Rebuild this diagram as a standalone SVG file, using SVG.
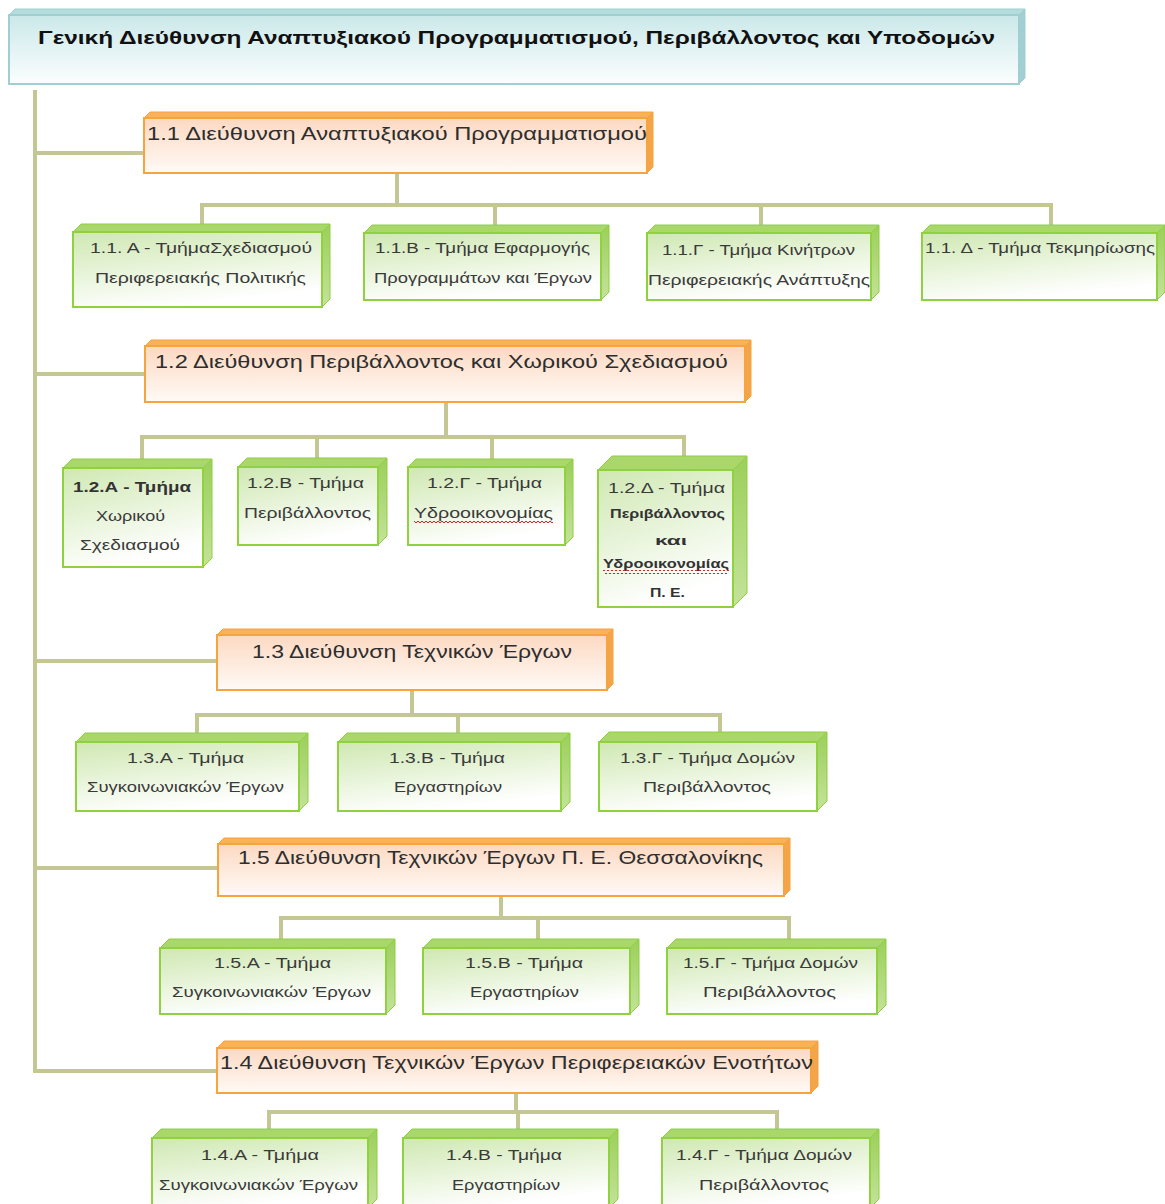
<svg xmlns="http://www.w3.org/2000/svg" width="1165" height="1204" viewBox="0 0 1165 1204">
  <defs>
    <linearGradient id="gradHead" x1="0" y1="0" x2="0" y2="1">
      <stop offset="0" stop-color="#cbe8e9"/>
      <stop offset="1" stop-color="#fbfefe"/>
    </linearGradient>
    <linearGradient id="gradOrange" x1="0" y1="0" x2="0" y2="1">
      <stop offset="0" stop-color="#fcd9c2"/>
      <stop offset="1" stop-color="#fffaf6"/>
    </linearGradient>
    <linearGradient id="gradGreen" x1="0" y1="0" x2="0.35" y2="1">
      <stop offset="0" stop-color="#cfe8b2"/>
      <stop offset="1" stop-color="#ffffff"/>
    </linearGradient>
    <linearGradient id="gradGreenSide" x1="0" y1="0" x2="0" y2="1">
      <stop offset="0" stop-color="#9bcf5a"/>
      <stop offset="1" stop-color="#c4e39a"/>
    </linearGradient>
    <pattern id="wavy" width="4" height="4" patternUnits="userSpaceOnUse">
      <path d="M0,3 L2,1 L4,3" fill="none" stroke="#e02020" stroke-width="1"/>
    </pattern>
    <style>
      .conn { fill: none; stroke: #c4c794; stroke-width: 4; stroke-linecap: square; }
      .htop { fill: #b5dcdd; stroke: #9fcfd2; stroke-width: 1; }
      .hside { fill: #a2d0d2; stroke: #9fcfd2; stroke-width: 1; }
      .hfront { fill: url(#gradHead); stroke: #9fcfd2; stroke-width: 2; }
      .otop { fill: #f9b257; stroke: #f6a23f; stroke-width: 1; }
      .oside { fill: #f4a54a; stroke: #f6a23f; stroke-width: 1; }
      .ofront { fill: url(#gradOrange); stroke: #f7a33e; stroke-width: 2; }
      .gtop { fill: #a9d76c; stroke: #8fcf40; stroke-width: 1; }
      .gside { fill: url(#gradGreenSide); stroke: #8fcf40; stroke-width: 1; }
      .gfront { fill: url(#gradGreen); stroke: #8fd13f; stroke-width: 2; }
      text { font-family: "Liberation Sans", "DejaVu Sans", sans-serif; }
      .head { font-size: 19px; font-weight: bold; fill: #111111; }
      .title { font-size: 19px; fill: #2e2e2e; }
      .dept { font-size: 15.5px; fill: #3a3a3a; }
      .deptb { font-size: 15.5px; font-weight: bold; fill: #333333; }
      .small { font-size: 13px; font-weight: bold; fill: #333333; }
      .spell { fill: url(#wavy); }
    </style>
  </defs>

  <rect width="1165" height="1204" fill="#ffffff"/>

  <!-- connectors (drawn first so boxes sit on top) -->
  <g id="connectors">
    <path class="conn" d="M35,92 V1071 H217"/>
    <path class="conn" d="M35,153 H144"/>
    <path class="conn" d="M35,374 H145"/>
    <path class="conn" d="M35,661 H217"/>
    <path class="conn" d="M35,868 H218"/>

    <path class="conn" d="M397,173 V205 M202,205 H1051 M202,205 V232 M495,205 V232 M761,205 V232 M1051,205 V232"/>
    <path class="conn" d="M446,402 V437 M142,437 H684 M142,437 V467 M317,437 V467 M492,437 V467 M684,437 V469"/>
    <path class="conn" d="M412,690 V715 M197,715 H720 M197,715 V741 M458,715 V741 M720,715 V741"/>
    <path class="conn" d="M501,896 V918 M281,918 H789 M281,918 V947 M538,918 V947 M789,918 V947"/>
    <path class="conn" d="M516,1093 V1112 M269,1112 H777 M269,1112 V1137 M518,1112 V1137 M777,1112 V1137"/>
  </g>

  <!-- general directorate -->
  <g id="n-root">
    <polygon class="htop" points="9,15 15,9 1025,9 1019,15"/>
    <polygon class="hside" points="1019,15 1025,9 1025,78 1019,84"/>
    <rect class="hfront" x="9" y="15" width="1010" height="69"/>
    <text class="head" x="38" y="44" textLength="957" lengthAdjust="spacingAndGlyphs">Γενική Διεύθυνση Αναπτυξιακού Προγραμματισμού, Περιβάλλοντος και Υποδομών</text>
  </g>

  <!-- 1.1 -->
  <g id="n-1-1">
    <polygon class="otop" points="144,118 150,112 653,112 647,118"/>
    <polygon class="oside" points="647,118 653,112 653,167 647,173"/>
    <rect class="ofront" x="144" y="118" width="503" height="55"/>
    <text class="title" x="147" y="140" textLength="500" lengthAdjust="spacingAndGlyphs">1.1 Διεύθυνση Αναπτυξιακού Προγραμματισμού</text>
  </g>
  <g id="n-1-1-a">
    <polygon class="gtop" points="73,232 81,224 330,224 322,232"/>
    <polygon class="gside" points="322,232 330,224 330,299 322,307"/>
    <rect class="gfront" x="73" y="232" width="249" height="75"/>
    <text class="dept" x="90" y="253" textLength="222" lengthAdjust="spacingAndGlyphs">1.1. Α - ΤμήμαΣχεδιασμού</text>
    <text class="dept" x="95" y="283" textLength="211" lengthAdjust="spacingAndGlyphs">Περιφερειακής Πολιτικής</text>
  </g>
  <g id="n-1-1-b">
    <polygon class="gtop" points="364,233 372,225 609,225 601,233"/>
    <polygon class="gside" points="601,233 609,225 609,292 601,300"/>
    <rect class="gfront" x="364" y="233" width="237" height="67"/>
    <text class="dept" x="375" y="253" textLength="215" lengthAdjust="spacingAndGlyphs">1.1.Β - Τμήμα Εφαρμογής</text>
    <text class="dept" x="374" y="283" textLength="218" lengthAdjust="spacingAndGlyphs">Προγραμμάτων και Έργων</text>
  </g>
  <g id="n-1-1-c">
    <polygon class="gtop" points="647,233 655,225 879,225 871,233"/>
    <polygon class="gside" points="871,233 879,225 879,292 871,300"/>
    <rect class="gfront" x="647" y="233" width="224" height="67"/>
    <text class="dept" x="662" y="255" textLength="193" lengthAdjust="spacingAndGlyphs">1.1.Γ - Τμήμα Κινήτρων</text>
    <text class="dept" x="648" y="285" textLength="222" lengthAdjust="spacingAndGlyphs">Περιφερειακής Ανάπτυξης</text>
  </g>
  <g id="n-1-1-d">
    <polygon class="gtop" points="922,233 930,225 1165,225 1157,233"/>
    <polygon class="gside" points="1157,233 1165,225 1165,292 1157,300"/>
    <rect class="gfront" x="922" y="233" width="235" height="67"/>
    <text class="dept" x="925" y="253" textLength="230" lengthAdjust="spacingAndGlyphs">1.1. Δ - Τμήμα Τεκμηρίωσης</text>
  </g>

  <!-- 1.2 -->
  <g id="n-1-2">
    <polygon class="otop" points="145,346 151,340 751,340 745,346"/>
    <polygon class="oside" points="745,346 751,340 751,396 745,402"/>
    <rect class="ofront" x="145" y="346" width="600" height="56"/>
    <text class="title" x="155" y="368" textLength="573" lengthAdjust="spacingAndGlyphs">1.2 Διεύθυνση Περιβάλλοντος και Χωρικού Σχεδιασμού</text>
  </g>
  <g id="n-1-2-a">
    <polygon class="gtop" points="63,468 72,459 212,459 203,468"/>
    <polygon class="gside" points="203,468 212,459 212,558 203,567"/>
    <rect class="gfront" x="63" y="468" width="140" height="99"/>
    <text class="deptb" x="73" y="492" textLength="118" lengthAdjust="spacingAndGlyphs">1.2.Α - Τμήμα</text>
    <text class="dept" x="96" y="521" textLength="69" lengthAdjust="spacingAndGlyphs">Χωρικού</text>
    <text class="dept" x="80" y="550" textLength="100" lengthAdjust="spacingAndGlyphs">Σχεδιασμού</text>
  </g>
  <g id="n-1-2-b">
    <polygon class="gtop" points="238,467 247,458 387,458 378,467"/>
    <polygon class="gside" points="378,467 387,458 387,536 378,545"/>
    <rect class="gfront" x="238" y="467" width="140" height="78"/>
    <text class="dept" x="247" y="488" textLength="117" lengthAdjust="spacingAndGlyphs">1.2.Β - Τμήμα</text>
    <text class="dept" x="244" y="518" textLength="127" lengthAdjust="spacingAndGlyphs">Περιβάλλοντος</text>
  </g>
  <g id="n-1-2-c">
    <polygon class="gtop" points="408,467 416,459 573,459 565,467"/>
    <polygon class="gside" points="565,467 573,459 573,537 565,545"/>
    <rect class="gfront" x="408" y="467" width="157" height="78"/>
    <text class="dept" x="427" y="488" textLength="115" lengthAdjust="spacingAndGlyphs">1.2.Γ - Τμήμα</text>
    <text class="dept" x="414" y="518" textLength="139" lengthAdjust="spacingAndGlyphs">Υδροοικονομίας</text>
    <rect class="spell" x="414" y="520" width="139" height="4"/>
  </g>
  <g id="n-1-2-d">
    <polygon class="gtop" points="598,470 612,456 747,456 733,470"/>
    <polygon class="gside" points="733,470 747,456 747,593 733,607"/>
    <rect class="gfront" x="598" y="470" width="135" height="137"/>
    <text class="dept" x="608" y="493" textLength="117" lengthAdjust="spacingAndGlyphs">1.2.Δ - Τμήμα</text>
    <text class="small" x="610" y="518" textLength="115" lengthAdjust="spacingAndGlyphs">Περιβάλλοντος</text>
    <text class="small" x="655" y="545" textLength="32" lengthAdjust="spacingAndGlyphs">και</text>
    <text class="small" x="603" y="568" textLength="126" lengthAdjust="spacingAndGlyphs">Υδροοικονομίας</text>
    <rect class="spell" x="603" y="570" width="126" height="4"/>
    <text class="small" x="650" y="597" textLength="35" lengthAdjust="spacingAndGlyphs">Π. Ε.</text>
  </g>

  <!-- 1.3 -->
  <g id="n-1-3">
    <polygon class="otop" points="217,635 223,629 613,629 607,635"/>
    <polygon class="oside" points="607,635 613,629 613,684 607,690"/>
    <rect class="ofront" x="217" y="635" width="390" height="55"/>
    <text class="title" x="252" y="658" textLength="320" lengthAdjust="spacingAndGlyphs">1.3 Διεύθυνση Τεχνικών Έργων</text>
  </g>
  <g id="n-1-3-a">
    <polygon class="gtop" points="76,742 85,733 308,733 299,742"/>
    <polygon class="gside" points="299,742 308,733 308,802 299,811"/>
    <rect class="gfront" x="76" y="742" width="223" height="69"/>
    <text class="dept" x="127" y="763" textLength="117" lengthAdjust="spacingAndGlyphs">1.3.Α - Τμήμα</text>
    <text class="dept" x="87" y="792" textLength="197" lengthAdjust="spacingAndGlyphs">Συγκοινωνιακών Έργων</text>
  </g>
  <g id="n-1-3-b">
    <polygon class="gtop" points="338,742 347,733 570,733 561,742"/>
    <polygon class="gside" points="561,742 570,733 570,802 561,811"/>
    <rect class="gfront" x="338" y="742" width="223" height="69"/>
    <text class="dept" x="389" y="763" textLength="116" lengthAdjust="spacingAndGlyphs">1.3.Β - Τμήμα</text>
    <text class="dept" x="394" y="792" textLength="108" lengthAdjust="spacingAndGlyphs">Εργαστηρίων</text>
  </g>
  <g id="n-1-3-c">
    <polygon class="gtop" points="599,742 609,732 827,732 817,742"/>
    <polygon class="gside" points="817,742 827,732 827,801 817,811"/>
    <rect class="gfront" x="599" y="742" width="218" height="69"/>
    <text class="dept" x="620" y="763" textLength="175" lengthAdjust="spacingAndGlyphs">1.3.Γ - Τμήμα Δομών</text>
    <text class="dept" x="643" y="792" textLength="128" lengthAdjust="spacingAndGlyphs">Περιβάλλοντος</text>
  </g>

  <!-- 1.5 -->
  <g id="n-1-5">
    <polygon class="otop" points="218,844 224,838 790,838 784,844"/>
    <polygon class="oside" points="784,844 790,838 790,890 784,896"/>
    <rect class="ofront" x="218" y="844" width="566" height="52"/>
    <text class="title" x="238" y="864" textLength="525" lengthAdjust="spacingAndGlyphs">1.5 Διεύθυνση Τεχνικών Έργων Π. Ε. Θεσσαλονίκης</text>
  </g>
  <g id="n-1-5-a">
    <polygon class="gtop" points="160,948 169,939 395,939 386,948"/>
    <polygon class="gside" points="386,948 395,939 395,1005 386,1014"/>
    <rect class="gfront" x="160" y="948" width="226" height="66"/>
    <text class="dept" x="214" y="968" textLength="117" lengthAdjust="spacingAndGlyphs">1.5.Α - Τμήμα</text>
    <text class="dept" x="172" y="997" textLength="199" lengthAdjust="spacingAndGlyphs">Συγκοινωνιακών Έργων</text>
  </g>
  <g id="n-1-5-b">
    <polygon class="gtop" points="423,948 432,939 639,939 630,948"/>
    <polygon class="gside" points="630,948 639,939 639,1005 630,1014"/>
    <rect class="gfront" x="423" y="948" width="207" height="66"/>
    <text class="dept" x="465" y="968" textLength="118" lengthAdjust="spacingAndGlyphs">1.5.Β - Τμήμα</text>
    <text class="dept" x="470" y="997" textLength="109" lengthAdjust="spacingAndGlyphs">Εργαστηρίων</text>
  </g>
  <g id="n-1-5-c">
    <polygon class="gtop" points="667,948 676,939 886,939 877,948"/>
    <polygon class="gside" points="877,948 886,939 886,1005 877,1014"/>
    <rect class="gfront" x="667" y="948" width="210" height="66"/>
    <text class="dept" x="683" y="968" textLength="175" lengthAdjust="spacingAndGlyphs">1.5.Γ - Τμήμα Δομών</text>
    <text class="dept" x="703" y="997" textLength="133" lengthAdjust="spacingAndGlyphs">Περιβάλλοντος</text>
  </g>

  <!-- 1.4 -->
  <g id="n-1-4">
    <polygon class="otop" points="217,1048 224,1041 818,1041 811,1048"/>
    <polygon class="oside" points="811,1048 818,1041 818,1086 811,1093"/>
    <rect class="ofront" x="217" y="1048" width="594" height="45"/>
    <text class="title" x="220" y="1069" textLength="593" lengthAdjust="spacingAndGlyphs">1.4 Διεύθυνση Τεχνικών Έργων Περιφερειακών Ενοτήτων</text>
  </g>
  <g id="n-1-4-a">
    <polygon class="gtop" points="152,1138 161,1129 377,1129 368,1138"/>
    <polygon class="gside" points="368,1138 377,1129 377,1199 368,1208"/>
    <rect class="gfront" x="152" y="1138" width="216" height="70"/>
    <text class="dept" x="201" y="1160" textLength="118" lengthAdjust="spacingAndGlyphs">1.4.Α - Τμήμα</text>
    <text class="dept" x="159" y="1190" textLength="199" lengthAdjust="spacingAndGlyphs">Συγκοινωνιακών Έργων</text>
  </g>
  <g id="n-1-4-b">
    <polygon class="gtop" points="403,1138 412,1129 618,1129 609,1138"/>
    <polygon class="gside" points="609,1138 618,1129 618,1199 609,1208"/>
    <rect class="gfront" x="403" y="1138" width="206" height="70"/>
    <text class="dept" x="446" y="1160" textLength="116" lengthAdjust="spacingAndGlyphs">1.4.Β - Τμήμα</text>
    <text class="dept" x="452" y="1190" textLength="108" lengthAdjust="spacingAndGlyphs">Εργαστηρίων</text>
  </g>
  <g id="n-1-4-c">
    <polygon class="gtop" points="662,1138 671,1129 879,1129 870,1138"/>
    <polygon class="gside" points="870,1138 879,1129 879,1199 870,1208"/>
    <rect class="gfront" x="662" y="1138" width="208" height="70"/>
    <text class="dept" x="676" y="1160" textLength="176" lengthAdjust="spacingAndGlyphs">1.4.Γ - Τμήμα Δομών</text>
    <text class="dept" x="699" y="1190" textLength="130" lengthAdjust="spacingAndGlyphs">Περιβάλλοντος</text>
  </g>
</svg>
